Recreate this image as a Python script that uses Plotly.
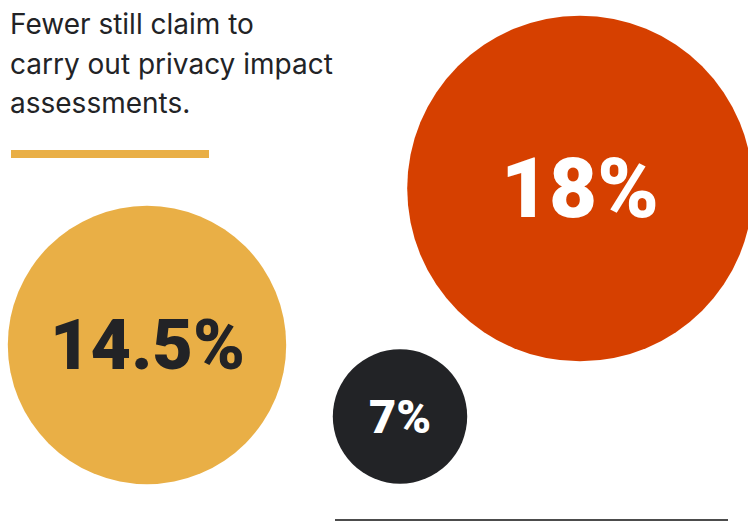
import plotly.graph_objects as go

# Share of respondents per group
labels = ["14.5%", "7%", "18%"]
values = [14.5, 7.0, 18.0]

# Bubble placement on a pixel-like canvas (x right, y down)
pos_x = [147, 400, 580]
pos_y = [345, 416.5, 188.5]

colors = ["#E9AF46", "#222326", "#D64000"]
text_colors = ["#222326", "#FFFFFF", "#FFFFFF"]
text_sizes = [70, 47, 83]

title_lines = ["Fewer still claim to", "carry out privacy impact", "assessments."]

W, H = 748, 521
PX_PER_UNIT = 19.2  # bubble diameter per percentage point

fig = go.Figure()
fig.add_trace(go.Scatter(
    x=pos_x,
    y=pos_y,
    mode="markers",
    marker=dict(
        size=[v * PX_PER_UNIT for v in values],
        sizemode="diameter",
        color=colors,
        opacity=1,
        line=dict(width=0),
    ),
    hoverinfo="skip",
    cliponaxis=False,
))

# Value labels centred on each bubble
for lab, x, y, c, s in zip(labels, pos_x, pos_y, text_colors, text_sizes):
    fig.add_annotation(
        x=x, y=y, xref="x", yref="y", text=lab, showarrow=False,
        xanchor="center", yanchor="middle", yshift=0,
        font=dict(family="Roboto", size=s, color=c, weight=900),
    )

for i, line in enumerate(title_lines):
    fig.add_annotation(
        x=8, y=24 + i * 39.5, xref="x", yref="y",
        text=line, showarrow=False,
        xanchor="left", yanchor="middle",
        font=dict(family="Inter", size=28, color="#222326"),
    )

# Gold rule under the heading and thin baseline rule
fig.add_shape(type="rect", x0=11, x1=209, y0=150, y1=158,
              fillcolor="#E9AF46", line=dict(width=0), layer="below")
fig.add_shape(type="line", x0=335, x1=728, y0=520, y1=520,
              line=dict(color="#111111", width=1.5))

fig.update_layout(
    width=W, height=H,
    margin=dict(l=0, r=0, t=0, b=0),
    paper_bgcolor="white", plot_bgcolor="white",
    showlegend=False,
    xaxis=dict(range=[0, W], visible=False, fixedrange=True),
    yaxis=dict(range=[H, 0], visible=False, fixedrange=True),
)

fig.write_html("out.html", config={"displayModeBar": False})
